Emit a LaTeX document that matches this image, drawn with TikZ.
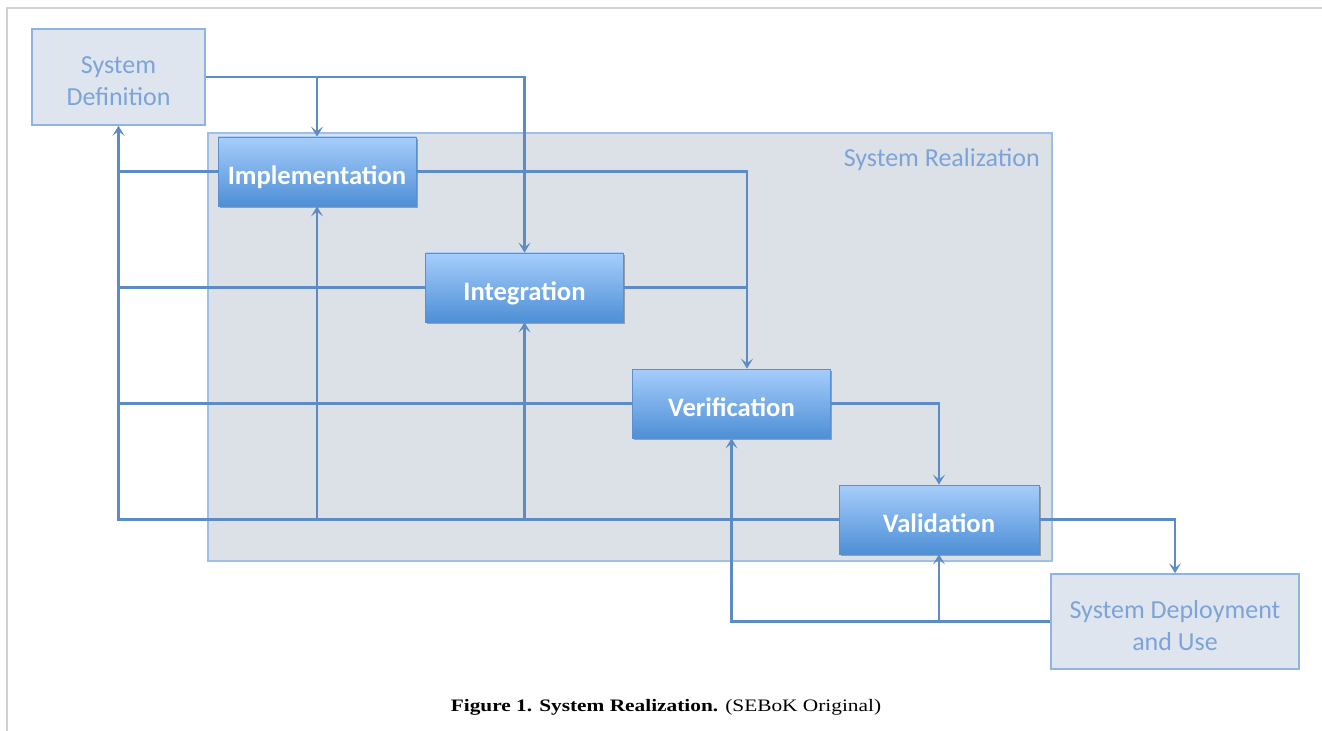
\documentclass[tikz,border=0pt]{standalone}
\usepackage{fontspec}
\setmainfont{Carlito}
\newfontfamily\capfont{Liberation Serif}
\usetikzlibrary{arrows.meta,shadows,calc}
\definecolor{linec}{RGB}{92,139,198}
\definecolor{paleblue}{RGB}{223,229,238}
\definecolor{paleborder}{RGB}{143,180,226}
\definecolor{paletext}{RGB}{124,164,216}
\definecolor{realfill}{RGB}{220,224,231}
\definecolor{realborder}{RGB}{158,191,232}
\definecolor{btop}{RGB}{166,205,251}
\definecolor{bbot}{RGB}{78,143,214}
\definecolor{bborder}{RGB}{90,143,208}
\definecolor{framec}{RGB}{210,210,210}
\tikzset{
  conn/.style={draw=linec, line width=2.2pt},
  arr/.style={-{Stealth[length=7.5pt,width=9pt,inset=3.5pt]}},
  palebox/.style={draw=paleborder, line width=1.2pt, fill=paleblue, inner sep=0pt},
  paletxt/.style={text=paletext, font=\fontsize{19.5}{24}\selectfont, align=center, inner sep=0pt},
  bluebox/.style={draw=bborder, line width=0.6pt, top color=btop, bottom color=bbot,
     text=white, font=\fontsize{20}{24}\selectfont\bfseries, inner sep=0pt,
     text height=19pt, text depth=0pt,
     minimum width=148.5pt, minimum height=51.75pt,
     drop shadow={shadow xshift=1.2pt, shadow yshift=-1.2pt, opacity=0.3, fill=black}},
  realbox/.style={draw=realborder, line width=1.2pt, fill=realfill, inner sep=0pt},
}
\begin{document}
\begin{tikzpicture}[x=0.75pt,y=-0.75pt]
\useasboundingbox (0,0) rectangle (1322,731);
% page frame
\coordinate (ftl) at (7,8);
\coordinate (ftr) at (1322,8);
\coordinate (fbl) at (7,731);
\draw[framec, line width=1.5pt] (ftr) -- (ftl) -- (fbl);

% System Realization container
\node[realbox, minimum width=633pt, minimum height=321pt] (sr) at (630,347) {};
\node[anchor=east, text=paletext, font=\fontsize{19.5}{24}\selectfont, inner sep=0pt] (srlabel) at (1040,160) {System Realization};

% nodes
\node[palebox, minimum width=129.75pt, minimum height=72pt] (sd) at (118.5,77) {};
\node[paletxt] (sdtxt) at ($(sd.center)+(0,4.5)$) {System\\Definition};
\node[bluebox] (impl) at (317,171.5) {Implementation};
\node[bluebox] (integ) at (524.5,287.5) {Integration};
\node[bluebox] (verif) at (731.5,403.5) {Verification};
\node[bluebox, minimum width=150pt] (valid) at (939,519.5) {Validation};
\node[palebox, minimum width=186pt, minimum height=71.25pt] (sdu) at (1175,621.5) {};
\node[paletxt] (sdutxt) at ($(sdu.center)+(0,4.5)$) {System Deployment\\and Use};

\coordinate (vin) at ($(verif.north)+(15.5,0)$);

% forward flow
\draw[conn,arr] (sd.east) -| (integ.north);
\draw[conn,arr] (impl.north |- sd.east) -- (impl.north);
\draw[conn,arr] (impl.east) -| (vin);
\draw[conn] (integ.east) -- (integ.east -| vin);
\draw[conn,arr] (verif.east) -| (valid.north);
\draw[conn,arr] (valid.east) -| (sdu.north);
% feedback to System Definition
\draw[conn,arr] (valid.west) -| (sd.south);
\draw[conn] (impl.west) -- (impl.west -| sd.south);
\draw[conn] (integ.west) -- (integ.west -| sd.south);
\draw[conn] (verif.west) -- (verif.west -| sd.south);
\draw[conn,arr] (impl.south |- valid.west) -- (impl.south);
\draw[conn,arr] (integ.south |- valid.west) -- (integ.south);
% feedback from deployment
\draw[conn,arr] (sdu.west) -| (verif.south);
\draw[conn,arr] (valid.south |- sdu.west) -- (valid.south);

% caption
\node[font=\capfont\fontsize{16}{18}\selectfont, inner sep=0pt] (cap) at (666,707)
  {\scalebox{1}[0.82]{\textbf{Figure 1. System Realization.} (SEBoK Original)}};
\end{tikzpicture}
\end{document}
